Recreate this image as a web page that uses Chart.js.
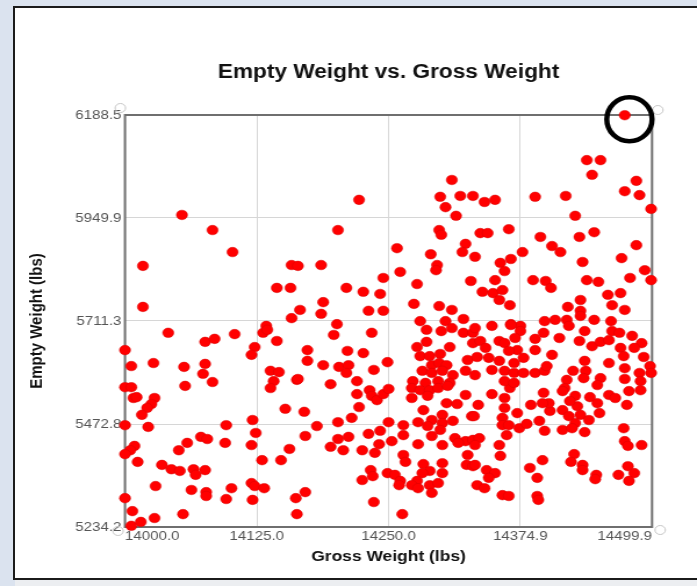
<!DOCTYPE html>
<html>
<head>
<meta charset="utf-8">
<title>Empty Weight vs. Gross Weight</title>
<script src="https://cdn.jsdelivr.net/npm/chart.js"></script>
<style>
    html, body { margin: 0; padding: 0; }
    body {
        width: 697px;
        height: 586px;
        position: relative;
        overflow: hidden;
        background: #dbe3ef;
        font-family: "Liberation Sans", Arial, sans-serif;
    }
    .panel {
        position: absolute;
        left: 13px;
        top: 6px;
        width: 700px;
        height: 570px;
        background: #fff;
        border: 2px solid #1b1b1b;
    }
    .foot {
        position: absolute;
        left: 15px;
        top: 580px;
        width: 700px;
        height: 6px;
        background: #eceef1;
    }
    #chart { position: absolute; left: 0; top: 0; }
</style>
</head>
<body>
<div class="panel"></div>
<div class="foot"></div>
<!-- drawn 600 wide, shown 697 wide: the source picture is stretched sideways -->
<canvas id="chart" width="600" height="586" style="width:697px;height:586px"></canvas>

<script>
// Gross weight (x) and empty weight (y), in lbs
const grossWeight = [
    14054, 14083, 14102, 14017, 14017, 14158, 14164, 14144, 14157, 14158, 14166, 14134,
    14222, 14202, 14310, 14299, 14318, 14330, 14304, 14314, 14298, 14300, 14258, 14290,
    14296, 14295, 14323, 14320, 14332, 14261, 14277, 14328, 14186, 14210, 14226, 14242,
    14245, 14188, 14186, 14231, 14245, 14274, 14298, 14310, 14321, 14280, 14304, 14201,
    14474, 14438, 14451, 14443, 14485, 14474, 14488, 14499, 14341, 14351, 14389, 14418,
    14427, 14337, 14344, 14364, 14394, 14405, 14413, 14431, 14445, 14485, 14471, 14434,
    14377, 14356, 14360, 14366, 14493, 14499, 14479, 14438, 14449, 14387, 14399, 14404,
    14351, 14339, 14349, 14358, 14355, 14365, 14458, 14470, 14462, 14474, 14432, 14420,
    14432, 14432, 14445, 14461, 14408, 14419, 14398, 14366, 14348, 14375,
    14041, 14076, 14085, 14104, 14000, 14006, 14027, 14056, 14076, 14074, 14083, 14057,
    14000, 14006, 14008, 14011, 14028, 14025, 14021, 14016, 14000, 14022, 14096, 14121,
    14124, 14120, 14072, 14078, 14059, 14051, 14095, 14009, 14005, 14000, 14012, 14035,
    14044, 14052, 14065, 14067, 14076, 14130, 14148, 14156, 14029, 14063, 14077, 14077,
    14101, 14096, 14120, 14123, 14132, 14121, 14000, 14007, 14055, 14028, 14006, 14015,
    14162, 14138, 14146, 14141, 14138, 14163, 14152, 14123, 14120, 14131, 14135, 14144,
    14198, 14234, 14173, 14173, 14188, 14211, 14226, 14203, 14212, 14210, 14249, 14236,
    14164, 14195, 14220, 14220, 14232, 14234, 14239, 14245, 14250, 14222, 14170, 14215,
    14202, 14182, 14171, 14202, 14212, 14195, 14207, 14225, 14231, 14242, 14241, 14237,
    14250, 14253, 14264, 14264, 14233, 14235, 14225, 14249, 14256, 14261, 14264, 14266,
    14236, 14263, 14171, 14163,
    14286, 14300, 14310, 14321, 14330, 14330, 14286, 14277, 14308, 14280, 14289, 14299,
    14291, 14298, 14305, 14325, 14282, 14291, 14301, 14311, 14323, 14332, 14273, 14285,
    14297, 14308, 14272, 14280, 14289, 14297, 14306, 14287, 14272, 14323, 14305, 14315,
    14283, 14329, 14278, 14291, 14301, 14301, 14311, 14287, 14299, 14291, 14313, 14323,
    14330, 14278, 14301, 14316, 14325, 14324, 14330, 14283, 14301, 14289, 14301, 14282,
    14277, 14272, 14278, 14289, 14297, 14291, 14260,
    14332, 14337, 14342, 14355, 14360, 14366, 14375, 14370, 14372, 14364, 14334, 14345,
    14355, 14369, 14378, 14348, 14360, 14369, 14378, 14389, 14398, 14400, 14405, 14389,
    14389, 14397, 14412, 14421, 14431, 14436, 14462, 14469, 14481, 14490, 14443, 14451,
    14459, 14470, 14483, 14492, 14473, 14498, 14499, 14488, 14474, 14474, 14459, 14436,
    14437, 14435, 14425, 14419, 14417, 14415, 14451, 14448, 14489, 14489, 14478, 14459,
    14465, 14441, 14448, 14427, 14429, 14422, 14415, 14421, 14432, 14450, 14476, 14440,
    14427, 14415, 14436, 14424, 14398, 14393, 14403, 14402, 14397, 14396, 14385, 14372,
    14360, 14360, 14365, 14360, 14369, 14348, 14335, 14331, 14358, 14358, 14364, 14374,
    14381, 14362, 14336, 14332, 14355, 14356, 14332, 14343, 14351, 14345, 14334, 14341,
    14358, 14364, 14473, 14474, 14477, 14490, 14396, 14384, 14391, 14391, 14392, 14426,
    14423, 14434, 14434, 14447, 14446, 14468, 14477, 14483, 14478
];

const emptyWeight = [
    5957, 5922, 5871, 5839, 5744, 5841, 5839, 5788, 5788, 5718, 5737, 5700,
    5992, 5922, 6038, 5999, 6001, 6001, 5975, 5955, 5922, 5911, 5880, 5866,
    5841, 5829, 5890, 5871, 5860, 5825, 5797, 5804, 5841, 5788, 5779, 5774,
    5811, 5755, 5728, 5735, 5735, 5751, 5746, 5737, 5716, 5711, 5711, 5704,
    6188, 6084, 6084, 6050, 6036, 6012, 6003, 5971, 5987, 5992, 5999, 6001,
    5955, 5915, 5915, 5924, 5906, 5885, 5871, 5906, 5917, 5887, 5857, 5848,
    5871, 5846, 5827, 5855, 5829, 5806, 5811, 5806, 5802, 5806, 5804, 5788,
    5806, 5779, 5776, 5783, 5760, 5748, 5772, 5776, 5748, 5737, 5760, 5744,
    5735, 5723, 5714, 5711, 5714, 5714, 5711, 5704, 5700, 5700,
    5684, 5663, 5670, 5681, 5644, 5607, 5614, 5605, 5612, 5589, 5570, 5561,
    5558, 5558, 5533, 5535, 5533, 5519, 5510, 5494, 5470, 5466, 5470, 5482,
    5452, 5424, 5443, 5438, 5429, 5412, 5429, 5422, 5412, 5403, 5385, 5378,
    5368, 5364, 5368, 5355, 5366, 5389, 5389, 5415, 5329, 5320, 5315, 5306,
    5324, 5299, 5336, 5329, 5324, 5297, 5301, 5271, 5264, 5255, 5237, 5246,
    5301, 5596, 5593, 5572, 5556, 5575, 5508, 5651, 5633, 5684, 5691, 5665,
    5679, 5684, 5644, 5619, 5609, 5642, 5637, 5605, 5609, 5591, 5616, 5598,
    5577, 5565, 5572, 5542, 5551, 5538, 5528, 5542, 5554, 5512, 5501, 5487,
    5477, 5468, 5445, 5438, 5443, 5420, 5412, 5412, 5450, 5457, 5426, 5406,
    5477, 5433, 5470, 5447, 5366, 5352, 5343, 5359, 5355, 5341, 5401, 5385,
    5292, 5264, 5315, 5264,
    5691, 5688, 5695, 5684, 5684, 5660, 5663, 5651, 5651, 5630, 5630, 5635,
    5609, 5614, 5609, 5621, 5596, 5591, 5596, 5586, 5596, 5586, 5572, 5568,
    5572, 5568, 5556, 5551, 5551, 5556, 5561, 5538, 5533, 5540, 5521, 5519,
    5505, 5491, 5477, 5482, 5494, 5475, 5480, 5468, 5459, 5445, 5440, 5433,
    5436, 5426, 5424, 5429, 5401, 5378, 5375, 5380, 5382, 5364, 5359, 5359,
    5341, 5331, 5324, 5331, 5336, 5313, 5331,
    5695, 5665, 5649, 5665, 5660, 5702, 5688, 5672, 5644, 5642, 5628, 5626,
    5619, 5614, 5626, 5598, 5596, 5591, 5591, 5591, 5596, 5607, 5633, 5644,
    5670, 5684, 5672, 5700, 5665, 5688, 5688, 5684, 5677, 5660, 5653, 5663,
    5667, 5649, 5649, 5628, 5630, 5607, 5591, 5591, 5602, 5577, 5614, 5619,
    5596, 5579, 5596, 5575, 5556, 5549, 5579, 5563, 5572, 5551, 5549, 5540,
    5533, 5535, 5521, 5538, 5514, 5526, 5505, 5491, 5494, 5498, 5517, 5482,
    5475, 5459, 5454, 5463, 5457, 5480, 5503, 5521, 5545, 5521, 5517, 5498,
    5510, 5533, 5556, 5572, 5568, 5542, 5517, 5491, 5487, 5470, 5470, 5463,
    5473, 5447, 5440, 5424, 5424, 5399, 5378, 5366, 5359, 5348, 5331, 5324,
    5308, 5306, 5463, 5433, 5422, 5424, 5389, 5371, 5348, 5306, 5297, 5403,
    5385, 5378, 5366, 5355, 5345, 5355, 5375, 5359, 5341
];

// Axis ranges and tick labels as printed on the chart
const xRange = [14000, 14499.9];
const yRange = [5234.2, 6188.5];
const xTickLabels = ['14000.0', '14125.0', '14250.0', '14374.9', '14499.9'];
const yTickLabels = ['5234.2', '5472.8', '5711.3', '5949.9', '6188.5'];

const FONT = '"Liberation Sans", Arial, sans-serif';

function evenTicks(range, count) {
    const step = (range[1] - range[0]) / (count - 1);
    const ticks = [];
    for (let i = 0; i < count; i++) {
        ticks.push({ value: range[0] + step * i });
    }
    return ticks;
}

// the top outlier is circled in the source picture
const highlightIndex = emptyWeight.indexOf(Math.max(...emptyWeight));

const framePlugin = {
    id: 'frame',
    beforeDatasetsDraw(chart) {
        const { ctx, chartArea: a } = chart;
        ctx.save();
        ctx.strokeStyle = '#6f6f6f';
        ctx.lineWidth = 2;
        ctx.strokeRect(a.left, a.top, a.right - a.left, a.bottom - a.top);
        ctx.restore();
    },
    afterDraw(chart) {
        const { ctx, chartArea: a, scales } = chart;
        ctx.save();

        // little selection handles at the plot corners
        ctx.strokeStyle = '#c6c6c6';
        ctx.lineWidth = 1;
        [[a.left - 4, a.top - 7], [a.right + 5, a.top - 5],
         [a.left - 6, a.bottom + 4], [a.right + 7, a.bottom + 3]].forEach(([cx, cy]) => {
            ctx.beginPath();
            ctx.arc(cx, cy, 4.5, 0, Math.PI * 2);
            ctx.stroke();
        });

        // hand-drawn style ring round the outlier
        const px = scales.x.getPixelForValue(grossWeight[highlightIndex]);
        const py = scales.y.getPixelForValue(emptyWeight[highlightIndex]);
        ctx.strokeStyle = '#000';
        ctx.lineWidth = 4.5;
        ctx.beginPath();
        ctx.ellipse(px + 4, py + 4, 19.5, 22, 0, 0, Math.PI * 2);
        ctx.stroke();

        ctx.restore();
    }
};

const ctx = document.getElementById('chart').getContext('2d');
new Chart(ctx, {
    type: 'scatter',
    data: {
        datasets: [{
            label: 'Empty Weight',
            data: grossWeight.map((x, i) => ({ x: x, y: emptyWeight[i] })),
            backgroundColor: '#ff0000',
            borderColor: '#d80000',
            borderWidth: 0.5,
            pointRadius: 4.8,
            pointHoverRadius: 4.8,
            clip: false
        }]
    },
    options: {
        responsive: false,
        animation: false,
        events: [],
        layout: {
            autoPadding: false,
            padding: { left: 0, right: 38.7, top: 0, bottom: 0 }
        },
        plugins: {
            legend: { display: false },
            tooltip: { enabled: false },
            title: {
                display: true,
                fullSize: false,
                text: 'Empty Weight vs. Gross Weight',
                color: '#111',
                font: { family: FONT, size: 19.5, weight: 'bold' },
                padding: { top: 61, bottom: 30.6 }
            }
        },
        scales: {
            x: {
                type: 'linear',
                min: xRange[0],
                max: xRange[1],
                afterBuildTicks: (scale) => { scale.ticks = evenTicks(xRange, xTickLabels.length); },
                afterFit: (scale) => { scale.height = 59; },
                border: { display: false },
                grid: { color: '#d6d6d6', lineWidth: 1, drawTicks: false },
                ticks: {
                    align: 'inner',
                    padding: 2,
                    maxRotation: 0,
                    color: '#555',
                    font: { family: FONT, size: 13 },
                    callback: (value, index) => xTickLabels[index]
                },
                title: {
                    display: true,
                    text: 'Gross Weight (lbs)',
                    color: '#111',
                    font: { family: FONT, size: 15, weight: 'bold' },
                    padding: { top: 0, bottom: 20 }
                }
            },
            y: {
                type: 'linear',
                min: yRange[0],
                max: yRange[1],
                afterBuildTicks: (scale) => { scale.ticks = evenTicks(yRange, yTickLabels.length); },
                afterFit: (scale) => { scale.width = 107.6; },
                border: { display: false },
                grid: { color: '#d6d6d6', lineWidth: 1, drawTicks: false },
                ticks: {
                    padding: 3,
                    color: '#555',
                    font: { family: FONT, size: 13 },
                    callback: (value, index) => yTickLabels[index]
                },
                title: {
                    display: true,
                    text: 'Empty Weight (lbs)',
                    color: '#111',
                    font: { family: FONT, size: 15, weight: 'bold' },
                    padding: { top: 23, bottom: 0 }
                }
            }
        }
    },
    plugins: [framePlugin]
});
</script>
</body>
</html>
